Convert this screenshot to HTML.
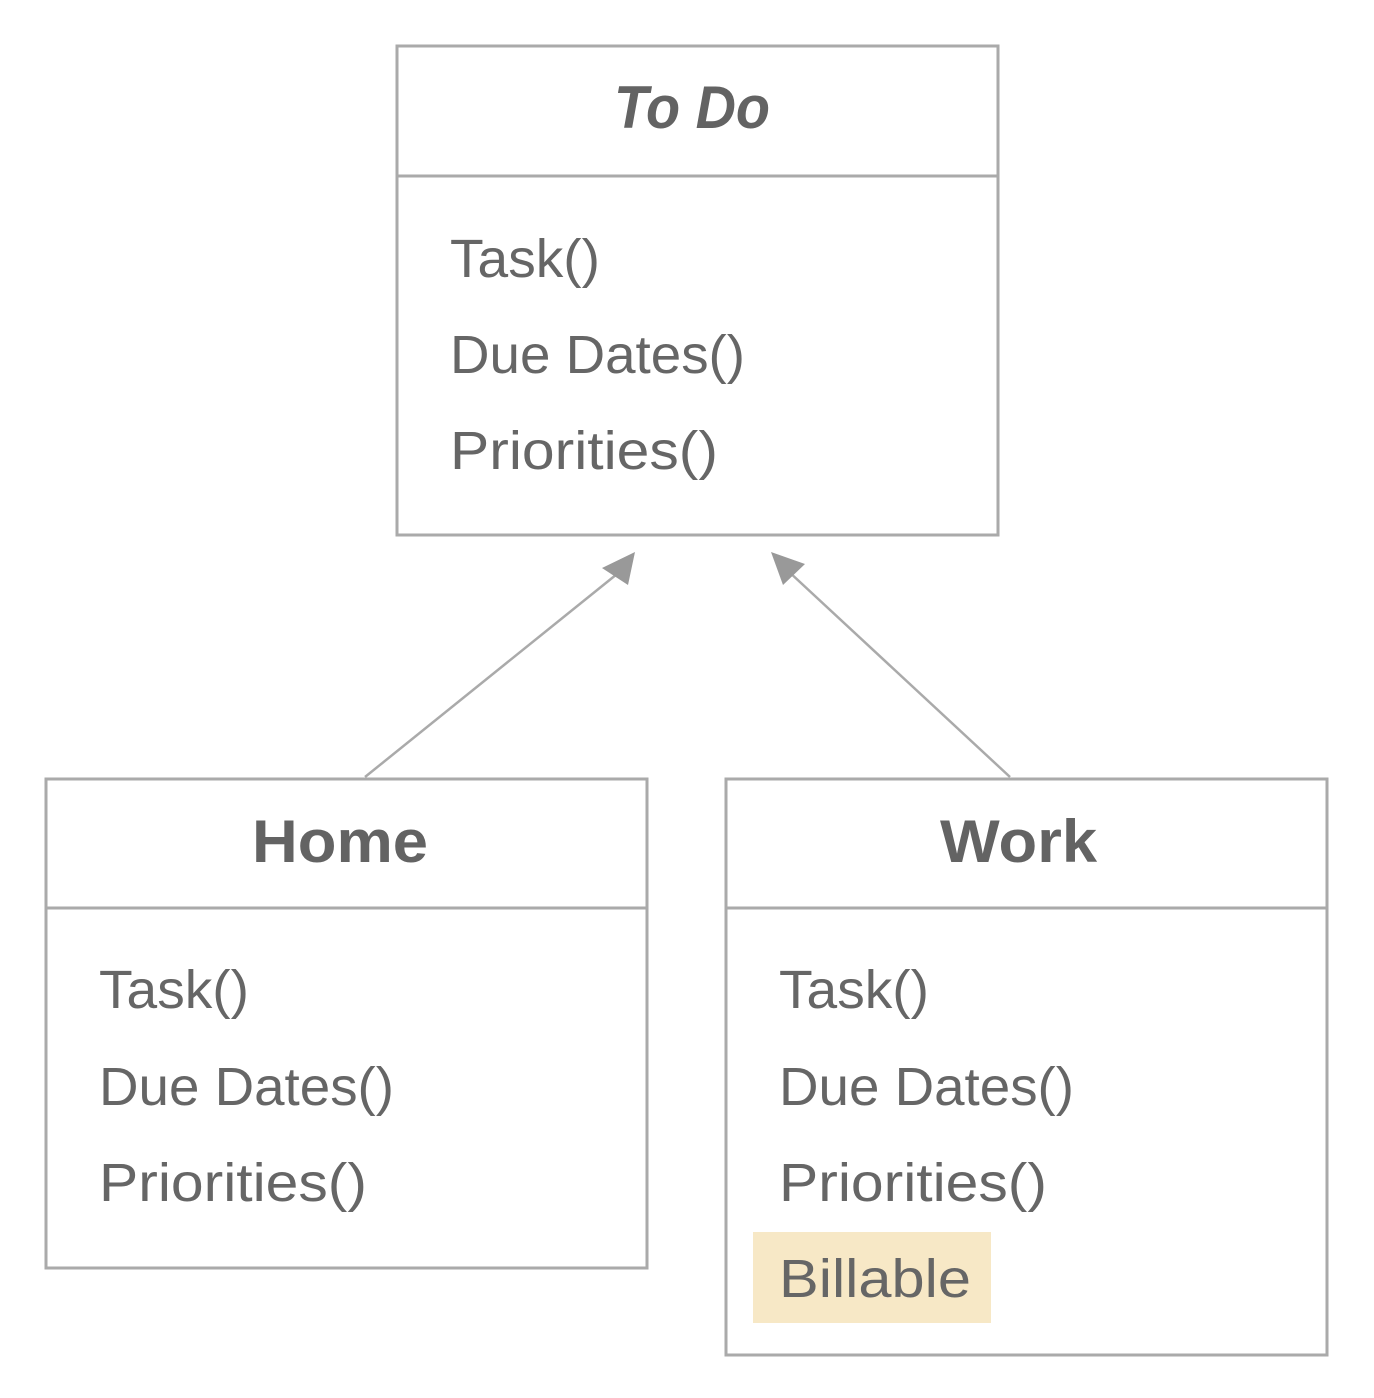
<!DOCTYPE html>
<html><head><style>html,body{margin:0;padding:0;background:#fff}svg{display:block}</style></head>
<body>
<svg width="1374" height="1398" viewBox="0 0 1374 1398" xmlns="http://www.w3.org/2000/svg" font-family="Liberation Sans, sans-serif">
<rect width="1374" height="1398" fill="#fff"/>
<g fill="none" stroke="#aaa" stroke-width="3">
<rect x="397" y="46" width="601" height="489"/>
<line x1="397" y1="176" x2="998" y2="176"/>
<rect x="46" y="779" width="601" height="489"/>
<line x1="46" y1="908" x2="647" y2="908"/>
<rect x="726" y="779" width="601" height="576"/>
<line x1="726" y1="908" x2="1327" y2="908"/>
<line x1="365" y1="777" x2="622" y2="570" stroke-width="2.5"/>
<line x1="1010" y1="777" x2="787" y2="570" stroke-width="2.5"/>
</g>
<polygon points="635,552 602,568 628,585" fill="#999"/>
<polygon points="771,552 783,585 805,564" fill="#999"/>
<rect x="753" y="1232" width="238" height="91" fill="#f7e8c6"/>
<g fill="#636363" font-weight="bold" font-size="60">
<text x="614" y="128" font-style="italic" textLength="156" lengthAdjust="spacingAndGlyphs">To Do</text>
<text x="252" y="862" textLength="176" lengthAdjust="spacingAndGlyphs">Home</text>
<text x="940" y="862" textLength="157" lengthAdjust="spacingAndGlyphs">Work</text>
</g>
<g fill="#666" font-size="54">
<text x="450" y="277" textLength="150" lengthAdjust="spacingAndGlyphs">Task()</text>
<text x="450" y="373" textLength="295" lengthAdjust="spacingAndGlyphs">Due Dates()</text>
<text x="450" y="469" textLength="268" lengthAdjust="spacingAndGlyphs">Priorities()</text>
<text x="99" y="1008" textLength="150" lengthAdjust="spacingAndGlyphs">Task()</text>
<text x="99" y="1105" textLength="295" lengthAdjust="spacingAndGlyphs">Due Dates()</text>
<text x="99" y="1201" textLength="268" lengthAdjust="spacingAndGlyphs">Priorities()</text>
<text x="779" y="1008" textLength="150" lengthAdjust="spacingAndGlyphs">Task()</text>
<text x="779" y="1105" textLength="295" lengthAdjust="spacingAndGlyphs">Due Dates()</text>
<text x="779" y="1201" textLength="268" lengthAdjust="spacingAndGlyphs">Priorities()</text>
<text x="779" y="1297" textLength="192" lengthAdjust="spacingAndGlyphs">Billable</text>
</g>
</svg>
</body></html>
